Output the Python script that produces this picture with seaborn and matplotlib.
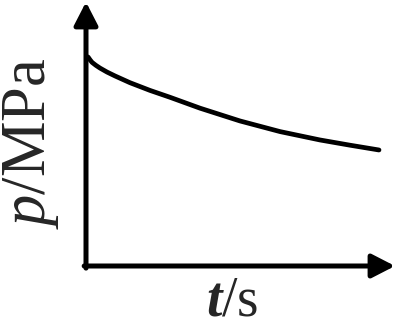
import matplotlib
matplotlib.use("Agg")
import matplotlib.pyplot as plt
import seaborn as sns
import pandas as pd

# data (arbitrary units)
t_values = [0, 0.07, 0.14, 0.27, 0.41, 0.65, 0.93, 1.44, 2.13, 2.82, 3.85, 5.22, 6.60, 7.97, 9.0, 10.0]
p_values = [10.0, 9.86, 9.74, 9.60, 9.47, 9.28, 9.09, 8.77, 8.40, 8.07, 7.55, 6.94, 6.43, 6.03, 5.78, 5.55]
x_label = r"$\mathbf{t}$/s"
y_label = r"$\mathit{p}$/MPa"

sns.set_theme(style="white")
plt.rcParams['font.family'] = ['Liberation Serif', 'DejaVu Serif']
plt.rcParams['mathtext.fontset'] = 'custom'
plt.rcParams['mathtext.rm'] = 'Liberation Serif'
plt.rcParams['mathtext.it'] = 'Liberation Serif:italic'
plt.rcParams['mathtext.bf'] = 'Liberation Serif:bold:italic'

df = pd.DataFrame({"t": t_values, "p": p_values})

fig = plt.figure(figsize=(4.0, 3.27), dpi=100)
ax = fig.add_axes([86 / 400, (327 - 266) / 327, (395 - 86) / 400, (266 - 2) / 327])
sns.lineplot(data=df, x="t", y="p", ax=ax, color="black", linewidth=3.4,
             solid_joinstyle="round", solid_capstyle="round")
ax.set_xlim(-0.07, 10.55)
ax.set_ylim(0, 12.63)
for s in ax.spines.values():
    s.set_visible(False)
ax.set_xticks([])
ax.set_yticks([])
ax.set_xlabel("")
ax.set_ylabel("")

arrow = dict(arrowstyle="-|>,head_length=0.7,head_width=0.36", color="black",
             lw=3.6, shrinkA=0, shrinkB=0, mutation_scale=20)
ax.annotate("", xy=(1, 0), xytext=(-0.006, 0), xycoords="axes fraction",
            textcoords="axes fraction", arrowprops=arrow)
ax.annotate("", xy=(0, 1), xytext=(0, -0.008), xycoords="axes fraction",
            textcoords="axes fraction", arrowprops=arrow)

fig.text(232 / 400, 1 - 316 / 327, x_label, fontsize=40, ha="center", va="baseline")
fig.text(31 / 400, 1 - 143 / 327, y_label, fontsize=45, ha="center", va="center",
         rotation=90)

fig.savefig("out.png", dpi=100)
